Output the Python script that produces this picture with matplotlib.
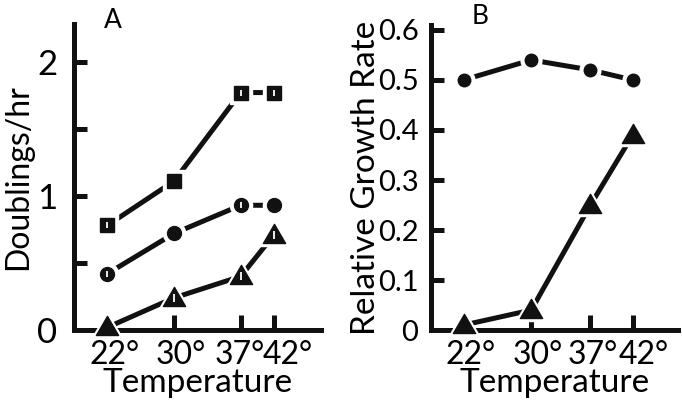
import matplotlib.pyplot as plt
import matplotlib.transforms as mtransforms
from matplotlib.path import Path
import numpy as np

plt.rcParams['font.family'] = ['Lato', 'DejaVu Sans']

# ------------------------------------------------------------------
# data
# ------------------------------------------------------------------
temps = [22, 30, 37, 42]
temp_labels = ["22°", "30°", "37°", "42°"]
# panel A uses an uneven axis: 37 and 42 sit close together
pos_a = [0, 2, 4, 5]

a_square = [0.78, 1.11, 1.77, 1.77]
a_circle = [0.42, 0.72, 0.93, 0.93]
a_triangle = [0.02, 0.24, 0.40, 0.71]

b_circle = [0.50, 0.54, 0.52, 0.50]
b_triangle = [0.01, 0.04, 0.25, 0.39]

# which markers carry the little white slit
slit_square = [True, False, True, True]
slit_circle = [True, False, True, False]
slit_triangle = [False, True, True, True]

LW = 3.6
INK = '#111111'
TRI = Path([(-1, -0.72), (1, -0.72), (0, 1), (-1, -0.72)],
           [Path.MOVETO, Path.LINETO, Path.LINETO, Path.CLOSEPOLY])


def serie(ax, x, y, marker, ms, slits=None):
    x = np.asarray(x, float)
    y = np.asarray(y, float)
    ax.plot(x, y, '-', color=INK, lw=LW, solid_capstyle='butt', zorder=2, clip_on=False)
    # white halo -> gap between line and marker
    ax.plot(x, y, ls='none', marker=marker, ms=ms + 6, color='white', zorder=3, clip_on=False)
    ax.plot(x, y, ls='none', marker=marker, ms=ms, color=INK, zorder=4, clip_on=False)
    if slits is not None:
        m = np.array(slits)
        ax.plot(x[m], y[m], ls='none', marker='|', ms=ms * 0.4, mew=1.3,
                color='white', zorder=5, clip_on=False)


def style(ax):
    for s in ['top', 'right']:
        ax.spines[s].set_visible(False)
    for s in ['left', 'bottom']:
        ax.spines[s].set_linewidth(LW)
        ax.spines[s].set_color(INK)
    ax.tick_params(axis='y', direction='in', length=9, width=LW, color=INK)
    ax.tick_params(axis='x', direction='in', length=11, width=LW, color=INK, pad=7,
                   labelsize=23)


def nudge_labels(ax, fig, shifts):
    # digits are centred on the tick, the degree sign hangs to the right;
    # 37 and 42 are squeezed apart a little
    for lab, dx in zip(ax.get_xticklabels(), shifts):
        off = mtransforms.ScaledTranslation(dx / 72, 0, fig.dpi_scale_trans)
        lab.set_transform(lab.get_transform() + off)


fig = plt.figure(figsize=(6.82, 4.09), dpi=100)

# ------------------------------------------------------------------
# A
# ------------------------------------------------------------------
axA = fig.add_axes([74 / 682, 0.193, 247 / 682, 0.748])
style(axA)
axA.tick_params(axis='y', pad=12)
axA.set_xlim(-1.0, 6.41)
axA.set_ylim(0, 2.28)
axA.set_xticks(pos_a)
axA.set_xticklabels(temp_labels)
axA.set_yticks([0, 0.5, 1, 1.5, 2])
axA.set_yticklabels(['0', '', '1', '', '2'], fontsize=25)
serie(axA, pos_a, a_square, 's', 9.5, slit_square)
serie(axA, pos_a, a_circle, 'o', 10, slit_circle)
serie(axA, pos_a, a_triangle, TRI, 16, slit_triangle)
axA.set_xlabel('Temperature', fontsize=24, labelpad=-1)
axA.set_ylabel('Doublings/hr', fontsize=23, labelpad=3)
nudge_labels(axA, fig, [5, 5, -1, 10])
fig.text(113 / 682, 1 - 20 / 409, 'A', fontsize=19, ha='center', va='center')

# ------------------------------------------------------------------
# B
# ------------------------------------------------------------------
axB = fig.add_axes([431 / 682, 0.193, 247 / 682, 0.746])
style(axB)
axB.tick_params(axis='y', pad=9)
axB.set_xlim(18.14, 47.36)
axB.set_ylim(0, 0.61)
axB.set_xticks(temps)
axB.set_xticklabels(temp_labels)
axB.set_yticks([0, 0.1, 0.2, 0.3, 0.4, 0.5, 0.6])
axB.set_yticklabels(['0', '0.1', '0.2', '0.3', '0.4', '0.5', '0.6'], fontsize=21)
serie(axB, temps, b_circle, 'o', 9)
serie(axB, temps, b_triangle, TRI, 16)
axB.set_xlabel('Temperature', fontsize=24, labelpad=-1)
axB.set_ylabel('Relative Growth Rate', fontsize=24, labelpad=-2)
nudge_labels(axB, fig, [5, 5, 2, 8])
fig.text(480 / 682, 1 - 16 / 409, 'B', fontsize=19, ha='center', va='center')

fig.savefig('out.png', dpi=100)
